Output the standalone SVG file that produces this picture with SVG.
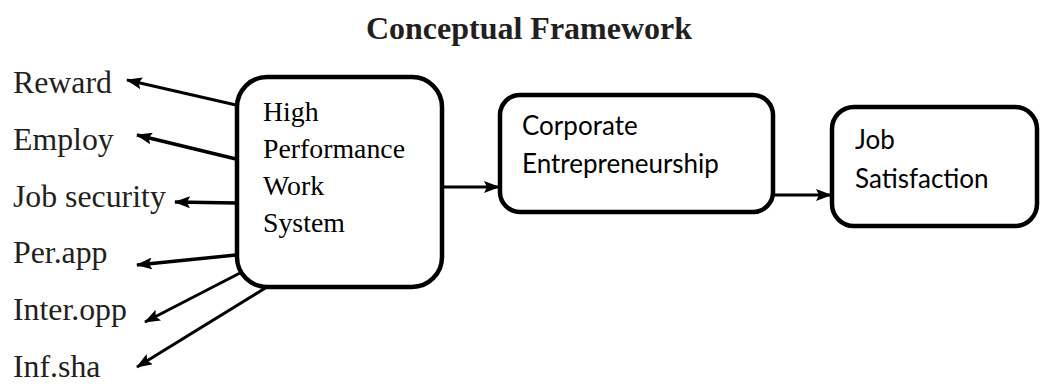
<svg xmlns="http://www.w3.org/2000/svg" width="1040" height="384" viewBox="0 0 1040 384">
  <style>
    .title { font-family: "Liberation Serif", "Times New Roman", serif; font-weight: bold; font-size: 32px; fill: #231f20; }
    .lbl { font-family: "Liberation Serif", "Times New Roman", serif; font-size: 31.8px; fill: #231f20; }
    .serif { font-family: "Liberation Serif", "Times New Roman", serif; font-size: 27.8px; fill: #000; }
    .sans { font-family: Lato, "Open Sans", sans-serif; font-size: 26px; fill: #000; }
    .box { fill: #fff; stroke: #000; stroke-width: 4.5; }
    .edge { stroke: #000; fill: none; }
  </style>
  <defs>
    <marker id="head" viewBox="0 0 16 12" markerWidth="16" markerHeight="12" refX="15" refY="6" orient="auto" markerUnits="userSpaceOnUse">
      <path d="M0,0 L16,6 L0,12 L3,6 z" fill="#000"/>
    </marker>
  </defs>

  <text class="title" x="529" y="39" text-anchor="middle">Conceptual Framework</text>

  <!-- left-hand dimension labels -->
  <g id="labels">
    <text class="lbl" x="13" y="93">Reward</text>
    <text class="lbl" x="13" y="150">Employ</text>
    <text class="lbl" x="13" y="207">Job security</text>
    <text class="lbl" x="13" y="263">Per.app</text>
    <text class="lbl" x="13" y="320">Inter.opp</text>
    <text class="lbl" x="13" y="377">Inf.sha</text>
  </g>

  <g id="connectors">
    <line class="edge" x1="236" y1="105" x2="127" y2="80" stroke-width="3" marker-end="url(#head)"/>
    <line class="edge" x1="236" y1="159" x2="137" y2="135" stroke-width="3.8" marker-end="url(#head)"/>
    <line class="edge" x1="236" y1="203" x2="175" y2="202" stroke-width="3.5" marker-end="url(#head)"/>
    <line class="edge" x1="236" y1="255" x2="137" y2="265" stroke-width="3.5" marker-end="url(#head)"/>
    <line class="edge" x1="240" y1="273" x2="145" y2="322" stroke-width="3" marker-end="url(#head)"/>
    <line class="edge" x1="267" y1="287" x2="137" y2="367" stroke-width="3" marker-end="url(#head)"/>
    <line class="edge" x1="442" y1="187" x2="499" y2="187" stroke-width="3" marker-end="url(#head)"/>
    <line class="edge" x1="773" y1="195" x2="831" y2="195" stroke-width="3" marker-end="url(#head)"/>
  </g>

  <g id="hpws">
    <rect class="box" x="237" y="77" width="205" height="210" rx="30" stroke-width="5"/>
    <text class="serif" x="263" y="121">High</text>
    <text class="serif" x="263" y="158">Performance</text>
    <text class="serif" x="263" y="195">Work</text>
    <text class="serif" x="263" y="232">System</text>
  </g>

  <g id="corporate">
    <rect class="box" x="500" y="95" width="273" height="117" rx="20"/>
    <text class="sans" x="522" y="135">Corporate</text>
    <text class="sans" x="522" y="173">Entrepreneurship</text>
  </g>

  <g id="satisfaction">
    <rect class="box" x="832" y="107" width="205" height="119" rx="22"/>
    <text class="sans" x="855" y="149">Job</text>
    <text class="sans" x="855" y="188">Satisfaction</text>
  </g>
</svg>
